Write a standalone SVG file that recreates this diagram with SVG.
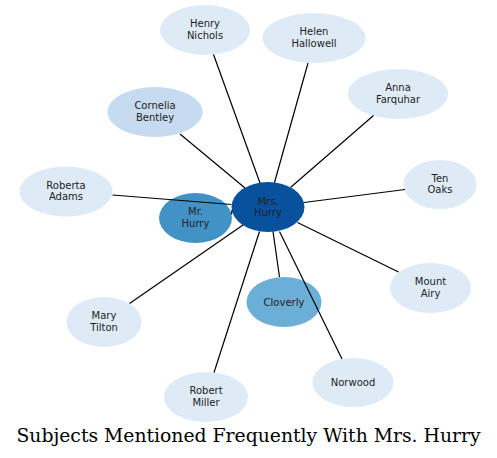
<svg xmlns="http://www.w3.org/2000/svg" width="497" height="458" viewBox="0 0 497 458">
<style>
.n{font-family:"DejaVu Sans",sans-serif;font-size:10px;fill:#222;text-anchor:middle}
.l0{fill:#deebf7}.l1{fill:#c6dbef}.l2{fill:#6baed6}.l3{fill:#4292c6}.l4{fill:#08519c}
.e line{stroke:#000;stroke-width:1.2}
.t{font-family:"DejaVu Serif",serif;font-size:18.8px;fill:#000;text-anchor:middle}
</style>
<rect width="497" height="458" fill="#fff"/>
<g id="node-henry-nichols"><ellipse class="l0" cx="205" cy="30" rx="45" ry="25"/><text class="n" x="205" y="27">Henry<tspan x="205" dy="11.5">Nichols</tspan></text></g>
<g id="node-helen-hallowell"><ellipse class="l0" cx="314" cy="38" rx="51.5" ry="25"/><text class="n" x="314" y="35">Helen<tspan x="314" dy="11.5">Hallowell</tspan></text></g>
<g id="node-anna-farquhar"><ellipse class="l0" cx="398" cy="94" rx="50" ry="25"/><text class="n" x="398" y="91">Anna<tspan x="398" dy="11.5">Farquhar</tspan></text></g>
<g id="node-cornelia-bentley"><ellipse class="l1" cx="155" cy="112" rx="47.5" ry="25"/><text class="n" x="155" y="109">Cornelia<tspan x="155" dy="11.5">Bentley</tspan></text></g>
<g id="node-ten-oaks"><ellipse class="l0" cx="440" cy="184.5" rx="36.5" ry="24.5"/><text class="n" x="440" y="181.5">Ten<tspan x="440" dy="11.5">Oaks</tspan></text></g>
<g id="node-roberta-adams"><ellipse class="l0" cx="66" cy="191.5" rx="46.5" ry="25"/><text class="n" x="66" y="188.5">Roberta<tspan x="66" dy="11.5">Adams</tspan></text></g>
<g id="node-mr-hurry"><ellipse class="l3" cx="195.5" cy="218" rx="36.5" ry="25"/><text class="n" x="195.5" y="215">Mr.<tspan x="195.5" dy="11.5">Hurry</tspan></text></g>
<g id="node-mrs-hurry"><ellipse class="l4" cx="268" cy="207" rx="36.5" ry="25"/><text class="n" x="268" y="204.5">Mrs.<tspan x="268" dy="11.5">Hurry</tspan></text></g>
<g id="node-mount-airy"><ellipse class="l0" cx="430.5" cy="288" rx="40.5" ry="25"/><text class="n" x="430.5" y="285">Mount<tspan x="430.5" dy="11.5">Airy</tspan></text></g>
<g id="node-cloverly"><ellipse class="l2" cx="284" cy="302" rx="37.5" ry="25"/><text class="n" x="284" y="305.5">Cloverly</text></g>
<g id="node-mary-tilton"><ellipse class="l0" cx="104" cy="322" rx="37.5" ry="25"/><text class="n" x="104" y="319">Mary<tspan x="104" dy="11.5">Tilton</tspan></text></g>
<g id="node-norwood"><ellipse class="l0" cx="353" cy="382.5" rx="40.5" ry="24.5"/><text class="n" x="353" y="386">Norwood</text></g>
<g id="node-robert-miller"><ellipse class="l0" cx="206" cy="397" rx="42" ry="25"/><text class="n" x="206" y="394">Robert<tspan x="206" dy="11.5">Miller</tspan></text></g>
<g id="connectors" class="e">
<line x1="213.5" y1="54.5" x2="260" y2="183"/>
<line x1="308" y1="63" x2="274.5" y2="182.5"/>
<line x1="373.5" y1="115.5" x2="290.5" y2="187.5"/>
<line x1="180" y1="134" x2="245" y2="188"/>
<line x1="405" y1="189.5" x2="304" y2="202.5"/>
<line x1="112.5" y1="195" x2="231.5" y2="204.5"/>
<line x1="232" y1="210" x2="231.5" y2="214.5"/>
<line x1="398.5" y1="272" x2="297.5" y2="222.5"/>
<line x1="279.5" y1="277" x2="273" y2="231.5"/>
<line x1="129.5" y1="303.5" x2="243" y2="225"/>
<line x1="342" y1="359" x2="279.5" y2="231.5"/>
<line x1="214" y1="372.5" x2="259.5" y2="231.5"/>
</g>
<text class="t" x="248.5" y="442">Subjects Mentioned Frequently With Mrs. Hurry</text>
</svg>
